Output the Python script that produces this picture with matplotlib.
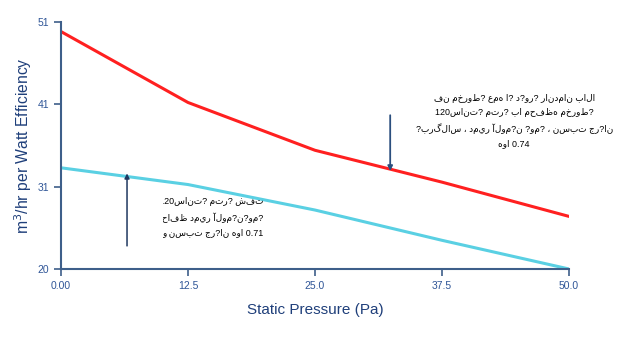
import matplotlib
matplotlib.use("Agg")
import matplotlib.pyplot as plt
from matplotlib.transforms import Bbox

plt.rcParams['font.family'] = ['Liberation Sans', 'DejaVu Sans']

pressure = [0.0, 12.5, 25.0, 37.5, 50.0]
fan_cone = [49.8, 40.9, 34.9, 30.9, 26.6]      # red
fan_direct = [32.7, 30.6, 27.4, 23.6, 20.0]    # cyan
y_ticks = [20, 30.33, 40.67, 51]
y_tick_labels = ["20", "31", "41", "51"]
x_tick_labels = ["0.00", "12.5", "25.0", "37.5", "50.0"]

note_cone = ("فن مخروط? عمه ا? د?ور? راندمان بالا\n"
             "120سانت? متر? با محفظه مخروط?\n"
             "?برگلاس ، دمير آلوم?ن ?وم? ، نسبت جر?ان\n"
             "هوا 0.74")
note_direct = ("فن 120سانت? متر? شفت\n"
               "?ستق?م با محافظ دمير آلوم?ن?وم?\n"
               "و نسبت جر?ان هوا 0.71")

axis_col = "#3e5f8a"
tick_col = "#2f5597"

fig = plt.figure(figsize=(6.21, 3.52), dpi=100)
ax = fig.add_axes([0.0982, 0.2358, 0.8181, 0.7017])

ax.plot(pressure, fan_cone, color="#ff2020", lw=2.2, solid_capstyle="round")
ax.plot(pressure, fan_direct, color="#5ad0e3", lw=2.2, solid_capstyle="round")

ax.set_xlim(0, 50)
ax.set_ylim(20, 51)
ax.set_xticks(pressure)
ax.set_xticklabels(x_tick_labels)
ax.set_yticks(y_ticks)
ax.set_yticklabels(y_tick_labels)

for s in ["top", "right"]:
    ax.spines[s].set_visible(False)
for s in ["left", "bottom"]:
    ax.spines[s].set_color(axis_col)
    ax.spines[s].set_linewidth(1.5)
ax.tick_params(colors=axis_col, labelcolor=tick_col, labelsize=7.5, width=1.2, length=5)

ax.set_xlabel("Static Pressure (Pa)", color="#1f3f7a", fontsize=11, labelpad=9)
ax.set_ylabel("m$^3$/hr per Watt Efficiency", color="#1f3f7a", fontsize=11.3)
ax.yaxis.set_label_coords(-0.054, 0.5)

# arrows
ax.annotate("", xy=(32.4, 32.3), xytext=(32.4, 39.3),
            arrowprops=dict(arrowstyle="-|>", color="#2b4f7e", lw=1.3, mutation_scale=7,
                            shrinkA=0, shrinkB=0))
ax.annotate("", xy=(6.5, 32.0), xytext=(6.5, 22.9),
            arrowprops=dict(arrowstyle="-|>", color="#1f3860", lw=1.1, mutation_scale=7,
                            shrinkA=0, shrinkB=0))

ax.text(44.6, 42.0, note_cone, fontsize=6.4, ha="center", va="top",
        multialignment="center", linespacing=1.75)
t2 = ax.text(19.9, 29.0, note_direct, fontsize=6.4, ha="right", va="top",
             multialignment="right", linespacing=1.75)
# the reference box cuts this note off on its left side
t2.set_clip_box(Bbox([[163, 0], [300, 352]]))
t2.set_clip_on(True)

fig.savefig("out.png", dpi=100)
